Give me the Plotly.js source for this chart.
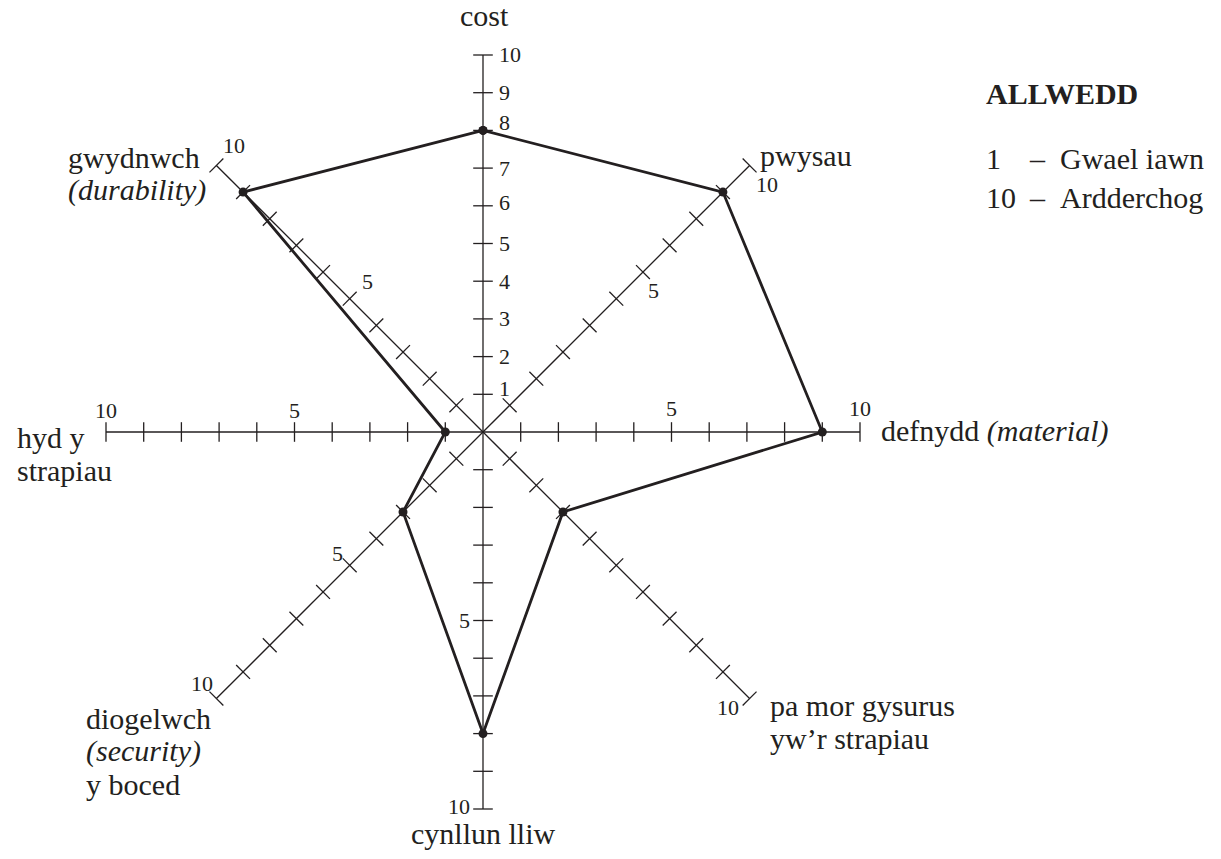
<!DOCTYPE html>
<html>
<head>
<meta charset="utf-8">
<script src="https://cdn.plot.ly/plotly-3.0.1.min.js"></script>
</head>
<body style="margin:0">
<div id="chart"></div>
<script>
// axes clockwise from the top
const axisNames = ['cost', 'pwysau', 'defnydd', 'pa mor gysurus', 'cynllun lliw', 'diogelwch', 'hyd y strapiau', 'gwydnwch'];
const scores = [8, 9, 9, 3, 8, 3, 1, 9];
const scaleTicks = [1, 2, 3, 4, 5, 6, 7, 8, 9, 10];
const costTickLabels = ['1', '2', '3', '4', '5', '6', '7', '8', '9', '10'];
const keyNumbers = ['1', '10'];
const keyWords = ['Gwael iawn', 'Ardderchog'];

const W = 1221, H = 859;
const CX = 483, CY = 432;   // centre of the chart in pixels
const U = 37.7;             // pixels per score unit
const INK = '#231f20';
const FONT = 'Liberation Serif';

function angleOf(k) {
    return k * 360 / axisNames.length;
}

function toXY(r, k) {
    const a = angleOf(k) * Math.PI / 180;
    return [r * Math.sin(a), r * Math.cos(a)];
}

// pixel offsets turned into data units
function px(dx) { return dx / U; }

// spokes
const spokeX = [], spokeY = [];
axisNames.forEach((name, k) => {
    const end = toXY(10, k);
    spokeX.push(0, end[0], null);
    spokeY.push(0, end[1], null);
});

// small ticks across every spoke
const tickX = [], tickY = [], tickAngle = [];
axisNames.forEach((name, k) => {
    scaleTicks.forEach(t => {
        const p = toXY(t, k);
        tickX.push(p[0]);
        tickY.push(p[1]);
        tickAngle.push(angleOf(k));
    });
});

// the profile
const polyX = [], polyY = [];
scores.concat([scores[0]]).forEach((s, i) => {
    const p = toXY(s, i % scores.length);
    polyX.push(p[0]);
    polyY.push(p[1]);
});

const traces = [
    {
        x: spokeX, y: spokeY, mode: 'lines', hoverinfo: 'skip',
        line: { color: INK, width: 1.3 }
    },
    {
        x: tickX, y: tickY, mode: 'markers', hoverinfo: 'skip',
        marker: { symbol: 'line-ew', size: 14, angle: tickAngle, color: INK, line: { color: INK, width: 1.3 } }
    },
    {
        x: polyX, y: polyY, mode: 'lines+markers',
        line: { color: INK, width: 2.8 },
        marker: { color: INK, size: 9 }
    }
];

const annotations = [];

function addText(text, x, y, size, xanchor) {
    annotations.push({
        text: text, x: x, y: y, xref: 'x', yref: 'y',
        showarrow: false, xanchor: xanchor, yanchor: 'middle',
        font: { family: FONT, size: size, color: INK }
    });
}

// labels given in pixels (left/centre x, baseline y)
function label(text, pxX, baseline, xanchor) {
    addText(text, (pxX - CX) / U, (CY - (baseline - 10)) / U, 30, xanchor || 'left');
}

// numbers on the cost axis
const costShift = [-6, 0, 0, 0, 0, -3, 0, -8, 0, -1];
scaleTicks.forEach((t, i) => {
    const p = toXY(t, 0);
    addText(costTickLabels[i], p[0] + px(14), p[1] - px(costShift[i]), 22, 'left');
});

// 5 and 10 on the other spokes: [axis, value, dx, dy, anchor]
const numberMarks = [
    [1, 5, 37, -8, 'center'], [1, 10, 17, 19, 'center'],
    [2, 5, 0, -24, 'center'], [2, 10, 0, -24, 'center'],
    [3, 10, -22, 9, 'center'],
    [4, 5, -11, 0, 'right'], [4, 10, -11, -3, 'right'],
    [5, 5, -12, -12, 'center'], [5, 10, -14, -15, 'center'],
    [6, 5, 0, -22, 'center'], [6, 10, 0, -22, 'center'],
    [7, 5, 18, -17, 'center'], [7, 10, 18, -20, 'center']
];
numberMarks.forEach(m => {
    const p = toXY(m[1], m[0]);
    addText(String(m[1]), p[0] + px(m[2]), p[1] - px(m[3]), 22, m[4]);
});

// axis names
label(axisNames[0], 484, 25, 'center');
label(axisNames[1], 758, 165);
label(axisNames[2] + ' <i>(material)</i>', 879, 441);
label(axisNames[3], 768, 715);
label('yw’r strapiau', 768, 748);
label(axisNames[4], 483, 843, 'center');
label(axisNames[5], 84, 728);
label('<i>(security)</i>', 84, 761);
label('y boced', 84, 794);
label('hyd y', 15, 447);
label('strapiau', 15, 480);
label(axisNames[7], 66, 167);
label('<i>(durability)</i>', 66, 200);

// key
label('<b>ALLWEDD</b>', 984, 103);
[168, 207].forEach((base, i) => {
    label(keyNumbers[i], 984, base);
    label('–', 1027, base);
    label(keyWords[i], 1058, base);
});

const layout = {
    width: W,
    height: H,
    margin: { l: 0, r: 0, t: 0, b: 0 },
    font: { family: FONT, color: INK },
    paper_bgcolor: '#fff',
    plot_bgcolor: '#fff',
    showlegend: false,
    xaxis: { range: [-CX / U, (W - CX) / U], visible: false, fixedrange: true },
    yaxis: { range: [(CY - H) / U, CY / U], visible: false, fixedrange: true },
    annotations: annotations
};

Plotly.newPlot('chart', traces, layout, { displayModeBar: false });
</script>
</body>
</html>
